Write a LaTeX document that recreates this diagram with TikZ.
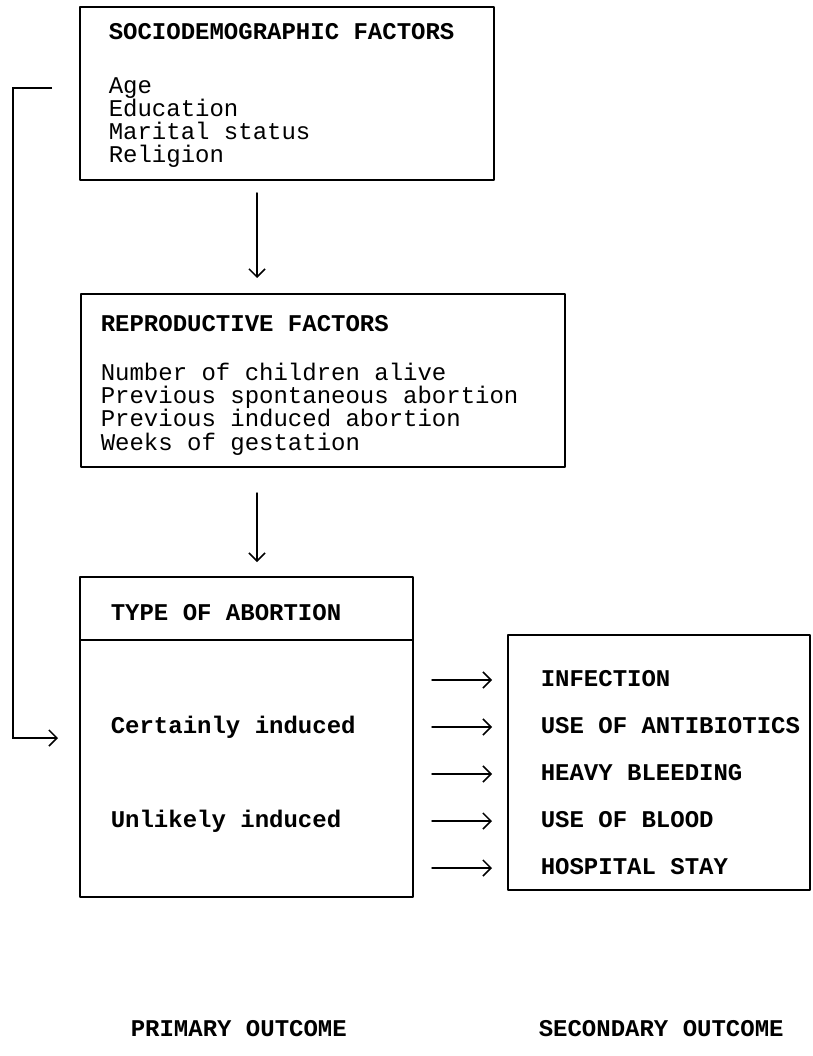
\documentclass[tikz,border=0pt]{standalone}
\usepackage{fontspec}
\usepackage{tkz-euclide}
\usetikzlibrary{arrows.meta}
\newfontfamily\typewriter{Liberation Mono}
\tikzset{>={Straight Barb[length=8pt,width=16pt]}}
\tikzset{boxtext/.style={anchor=base west, inner sep=0pt, align=left,
    font=\typewriter\fontsize{24}{23.3}\selectfont},
  boxhead/.style={boxtext, font=\typewriter\bfseries\fontsize{24}{24}\selectfont},
  frame/.style={line width=1.5pt}}

\begin{document}
\begin{tikzpicture}[x=1pt, y=-1pt, line width=1.5pt]
\useasboundingbox (0,0) rectangle (812,1056);
% boxes
\tkzDefPoints{80/7/A, 494/7/B, 494/180/C, 80/180/D}
\tkzDefPoints{81/294/E, 565/294/F, 565/467/G, 81/467/H}
\tkzDefPoints{80/577/J, 413/577/K, 413/897/M, 80/897/N, 80/640/P, 413/640/Q}
\tkzDefPoints{508/635/R, 810/635/S, 810/890/T, 508/890/U}
\tkzDrawPolygon[frame](A,B,C,D)
\tkzDrawPolygon[frame](E,F,G,H)
\tkzDrawPolygon[frame](J,K,M,N)
\tkzDrawSegment[frame](P,Q)
\tkzDrawPolygon[frame](R,S,T,U)
% arrows down
\tkzDefPoints{257/193/V1, 257/278/V2, 257/493/V3, 257/562/V4}
\tkzDrawSegments[frame,->](V1,V2 V3,V4)
% arrows to outcomes
\tkzDefPoints{432/680/O1, 492/680/I1, 432/727/O2, 492/727/I2, 432/774/O3, 492/774/I3,
  432/821/O4, 492/821/I4, 432/868/O5, 492/868/I5}
\tkzDrawSegments[frame,->](O1,I1 O2,I2 O3,I3 O4,I4 O5,I5)
% bypass line
\tkzDefPoints{52/88/L1, 13/88/L2, 13/738/L3, 58/738/L4}
\draw[frame,->] (L1) -- (L2) -- (L3) -- (L4);
% texts
\node[boxhead] (sociohead) at (108,40) {SOCIODEMOGRAPHIC FACTORS};
\node[boxtext] (sociolist) at (108,163) {Age\\Education\\Marital status\\Religion};
\node[boxhead] (reprohead) at (100,331) {REPRODUCTIVE FACTORS};
\node[boxtext] (reprolist) at (100,450) {Number of children alive\\Previous spontaneous abortion\\Previous induced abortion\\Weeks of gestation};
\node[boxhead] (typehead) at (110,620) {TYPE OF ABORTION};
\node[boxhead] (certain) at (110,733) {Certainly induced};
\node[boxhead] (unlikely) at (110,827) {Unlikely induced};
\node[boxhead] (infection) at (540,686) {INFECTION};
\node[boxhead] (antibio) at (540,733) {USE OF ANTIBIOTICS};
\node[boxhead] (bleeding) at (540,780) {HEAVY BLEEDING};
\node[boxhead] (blood) at (540,827) {USE OF BLOOD};
\node[boxhead] (stay) at (540,874) {HOSPITAL STAY};
\node[boxhead] (primary) at (130,1036) {PRIMARY OUTCOME};
\node[boxhead] (secondary) at (538,1036) {SECONDARY OUTCOME};
\end{tikzpicture}
\end{document}
